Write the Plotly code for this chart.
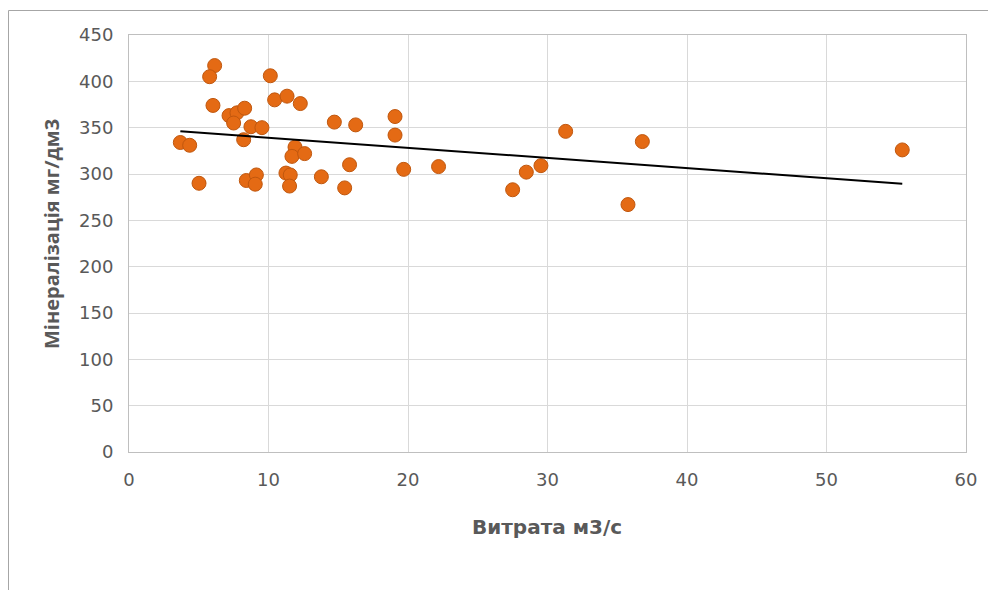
import numpy as np
import plotly.graph_objects as go

flow = [6.14, 5.78, 10.13, 6.02, 10.44, 11.33, 12.28, 7.17, 7.74, 8.29,
        7.5, 8.74, 9.53, 14.72, 16.25, 19.07, 19.07, 3.68, 4.35, 8.22,
        11.9, 11.68, 12.59, 15.81, 19.69, 22.19, 5.02, 8.41, 9.13, 9.05,
        11.25, 11.56, 11.51, 13.79, 15.46, 27.5, 28.48, 29.53, 31.3, 36.8,
        35.77, 55.43]
mineral = [417, 405, 406, 374, 380, 384, 376, 363, 366, 371,
           355, 351, 350, 356, 353, 362, 342, 334, 331, 337,
           329, 319, 322, 310, 305, 308, 290, 293, 299, 289,
           301, 299, 287, 297, 285, 283, 302, 309, 346, 335,
           267, 326]

x_ticks = [0, 10, 20, 30, 40, 50, 60]
y_ticks = [0, 50, 100, 150, 200, 250, 300, 350, 400, 450]

slope, intercept = np.polyfit(flow, mineral, 1)
tx = [min(flow), max(flow)]
ty = [slope * v + intercept for v in tx]

WIDE = "DejaVu Sans"
FONT = "Open Sans"
GRAY = "#595959"

fig = go.Figure()
fig.add_trace(go.Scatter(
    x=flow, y=mineral, mode="markers",
    marker=dict(size=14, color="#E46A14", line=dict(color="#C0570E", width=1)),
    showlegend=False, hoverinfo="x+y"))
fig.add_trace(go.Scatter(
    x=tx, y=ty, mode="lines",
    line=dict(color="black", width=2), showlegend=False, hoverinfo="skip"))

L, R, T, B = 129, 22, 35, 138
W, H = 988, 590
pw, ph = W - L - R, H - T - B

def px2x(p):
    return (p - L) / pw

def px2y(p):
    return (H - B - p) / ph

fig.update_layout(
    width=W, height=H,
    margin=dict(l=L, r=R, t=T, b=B),
    paper_bgcolor="white", plot_bgcolor="white",
    font=dict(family=FONT, size=17, color=GRAY),
    xaxis=dict(range=[0, 60], tickvals=x_ticks, showgrid=True,
               gridcolor="#D9D9D9", gridwidth=1, zeroline=False,
               showline=True, linecolor="#BFBFBF", linewidth=1, mirror=True,
               ticks="", ticklabelstandoff=11, tickfont=dict(family=WIDE, size=18, color=GRAY)),
    yaxis=dict(range=[0, 450], tickvals=y_ticks, showgrid=True,
               gridcolor="#D9D9D9", gridwidth=1, zeroline=False,
               showline=True, linecolor="#BFBFBF", linewidth=1, mirror=True,
               ticks="", ticklabelstandoff=11, tickfont=dict(family=WIDE, size=18, color=GRAY)),
    annotations=[
        dict(text="<b>Витрата м3/с</b>", xref="paper", yref="paper",
             x=px2x(547), y=px2y(527), showarrow=False,
             font=dict(family=WIDE, size=20, color=GRAY),
             xanchor="center", yanchor="middle"),
        dict(text="<b>Мінералізація мг/дм3</b>", xref="paper", yref="paper",
             x=px2x(51), y=px2y(234), showarrow=False, textangle=-90,
             font=dict(family=FONT, size=20, color=GRAY),
             xanchor="center", yanchor="middle"),
    ],
    shapes=[
        dict(type="line", xref="paper", yref="paper",
             x0=px2x(8.5), x1=px2x(8.5), y0=px2y(10.5), y1=px2y(600),
             line=dict(color="#A6A6A6", width=1)),
        dict(type="line", xref="paper", yref="paper",
             x0=px2x(8.5), x1=px2x(1000), y0=px2y(10.5), y1=px2y(10.5),
             line=dict(color="#A6A6A6", width=1)),
    ],
)

fig.write_html("out.html")
